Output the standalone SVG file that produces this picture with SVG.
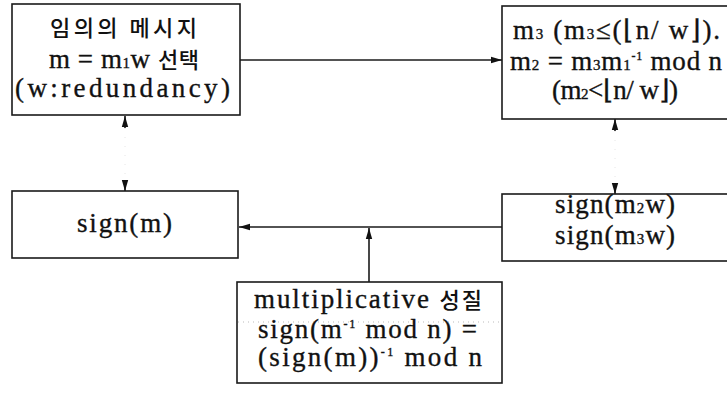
<svg xmlns="http://www.w3.org/2000/svg" width="727" height="398" viewBox="0 0 727 398">
<defs>
<style>
.box{fill:#fff;stroke:#1a1a1a;stroke-width:1.6}
.t{font-family:"Liberation Serif","Noto Sans CJK KR",serif;font-size:27px;fill:#111;stroke:#111;stroke-width:0.35;text-anchor:start}
.k{font-family:"Noto Sans CJK KR","Liberation Serif",sans-serif;font-size:22px;font-weight:500;stroke-width:0}
.sub{font-size:15px}
.sup{font-size:12px}
.ln{stroke:#1a1a1a;stroke-width:1.6;fill:none}
.faint{stroke:#e6e6e6;stroke-width:1;stroke-dasharray:1 8;fill:none}
</style>
<marker id="ah" markerUnits="userSpaceOnUse" markerWidth="12" markerHeight="8" refX="11" refY="4" orient="auto-start-reverse">
<path d="M0,0.8 L11,4 L0,7.2 Z" fill="#111"/>
</marker>
</defs>
<rect width="727" height="398" fill="#fff"/>
<g id="connectors">
<path class="ln" d="M240,60 H502" marker-end="url(#ah)"/>
<path class="ln" d="M502,227 H239" marker-end="url(#ah)"/>
<path class="ln" d="M369,282 V228" marker-end="url(#ah)"/>
<path class="faint" d="M125,128 V180"/>
<path class="ln" d="M125,128 V116" marker-end="url(#ah)"/>
<path class="ln" d="M125,180 V191" marker-end="url(#ah)"/>
<path class="faint" d="M615,131 V183"/>
<path class="ln" d="M615,131 V119" marker-end="url(#ah)"/>
<path class="ln" d="M615,183 V194" marker-end="url(#ah)"/>
</g>
<g id="node-select">
<rect class="box" x="12" y="4" width="228" height="111"/>
<text class="t k" x="50" y="36" textLength="147" lengthAdjust="spacing">임의의 메시지</text>
<text class="t" x="49" y="68" textLength="150" lengthAdjust="spacing">m = m<tspan class="sub">1</tspan>w <tspan class="k">선택</tspan></text>
<text class="t" x="15" y="97" textLength="215" lengthAdjust="spacing">(w:redundancy)</text>
</g>
<g id="node-m3">
<rect class="box" x="502" y="6" width="232" height="113"/>
<text class="t" x="513" y="39" textLength="207" lengthAdjust="spacing">m<tspan class="sub">3</tspan>  (m<tspan class="sub">3</tspan>≤(⌊n/ w⌋).</text>
<text class="t" x="510" y="70" textLength="212" lengthAdjust="spacing">m<tspan class="sub">2</tspan> = m<tspan class="sub">3</tspan>m<tspan class="sub">1</tspan><tspan class="sup" dy="-10">-1</tspan><tspan dy="10"> mod n</tspan></text>
<text class="t" x="552" y="99" textLength="126" lengthAdjust="spacing">(m<tspan class="sub">2</tspan>&lt;⌊n/ w⌋)</text>
</g>
<g id="node-signm">
<rect class="box" x="12" y="191" width="226" height="67"/>
<text class="t" x="77" y="232" textLength="95" lengthAdjust="spacing">sign(m)</text>
</g>
<g id="node-sign23">
<rect class="box" x="502" y="194" width="232" height="67"/>
<text class="t" x="555" y="213" textLength="120" lengthAdjust="spacing">sign(m<tspan class="sub">2</tspan>w)</text>
<text class="t" x="555" y="244" textLength="120" lengthAdjust="spacing">sign(m<tspan class="sub">3</tspan>w)</text>
</g>
<g id="node-mult">
<rect class="box" x="237" y="282" width="265" height="101"/>
<path d="M238,322 H501" stroke="#bbb" stroke-width="1" stroke-dasharray="1 4"/>
<text class="t" x="254" y="308" textLength="228" lengthAdjust="spacing">multiplicative <tspan class="k">성질</tspan></text>
<text class="t" x="258" y="338" textLength="219" lengthAdjust="spacing">sign(m<tspan class="sup" dy="-10">-1</tspan><tspan dy="10"> mod n) =</tspan></text>
<text class="t" x="258" y="366" textLength="224" lengthAdjust="spacing">(sign(m))<tspan class="sup" dy="-10">-1</tspan><tspan dy="10"> mod n</tspan></text>
</g>
</svg>
